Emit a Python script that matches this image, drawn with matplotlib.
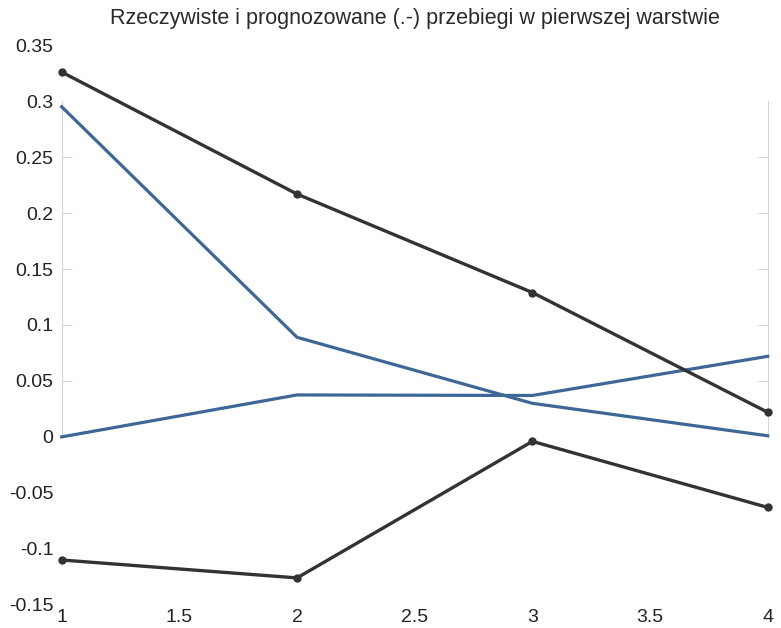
import matplotlib.pyplot as plt
import numpy as np

plt.rcParams['font.family'] = ['Liberation Sans', 'DejaVu Sans']

# sample index (layer step)
x = [1, 2, 3, 4]

# real runs (blue)
real_a = [0.295, 0.089, 0.030, 0.001]
real_b = [0.000, 0.0375, 0.037, 0.072]

# predicted runs (black, dot-dash markers)
pred_a = [0.326, 0.217, 0.129, 0.022]
pred_b = [-0.110, -0.126, -0.004, -0.063]

xticks = [1, 1.5, 2, 2.5, 3, 3.5, 4]
xticklabels = ['1', '1.5', '2', '2.5', '3', '3.5', '4']
yticks = [-0.15, -0.1, -0.05, 0, 0.05, 0.1, 0.15, 0.2, 0.25, 0.3, 0.35]
yticklabels = ['-0.15', '-0.1', '-0.05', '0', '0.05', '0.1', '0.15', '0.2', '0.25', '0.3', '0.35']

fig = plt.figure(figsize=(7.81, 6.28), dpi=100)
ax = fig.add_axes([0.079, 0.037, 0.904, 0.891])

ax.set_xlim(1, 4)
ax.set_ylim(-0.15, 0.35)
ax.set_xticks(xticks)
ax.set_xticklabels(xticklabels)
ax.set_yticks(yticks)
ax.set_yticklabels(yticklabels)
for s in ax.spines.values():
    s.set_visible(False)
ax.tick_params(length=0, labelsize=14, colors='#222222')
ax.tick_params(axis='y', pad=6)
ax.tick_params(axis='x', pad=3)

# faint frame of the real-values plot, 0..0.3
inner = ax.inset_axes([1, 0, 3, 0.3], transform=ax.transData)
inner.set_xlim(1, 4)
inner.set_ylim(0, 0.3)
inner.patch.set_visible(False)
inner.spines['top'].set_visible(False)
inner.spines['bottom'].set_visible(False)
inner.spines['left'].set_color('#d4d4d4')
inner.spines['right'].set_color('#d4d4d4')
inner.set_xticks([])
inner.set_yticks(np.arange(0.05, 0.3, 0.05))
inner.yaxis.set_ticks_position('both')
inner.tick_params(axis='y', direction='in', length=7, color='#d4d4d4', labelleft=False, labelright=False)
inner.set_zorder(0)

blue = '#3d6797'
ax.plot(x, real_a, color=blue, lw=2.3, zorder=3)
ax.plot(x, real_b, color=blue, lw=2.3, zorder=3)

dark = '#333333'
ax.plot(x, pred_a, color=dark, lw=2.4, marker='o', ms=5, zorder=4)
ax.plot(x, pred_b, color=dark, lw=2.4, marker='o', ms=5, zorder=4)

for ln in ax.lines:
    ln.set_clip_on(False)

fig.text(0.531, 0.97, 'Rzeczywiste i prognozowane (.-) przebiegi w pierwszej warstwie',
         ha='center', va='center', fontsize=15.5, color='#2a2a2a')

fig.savefig('out.png', dpi=100)
